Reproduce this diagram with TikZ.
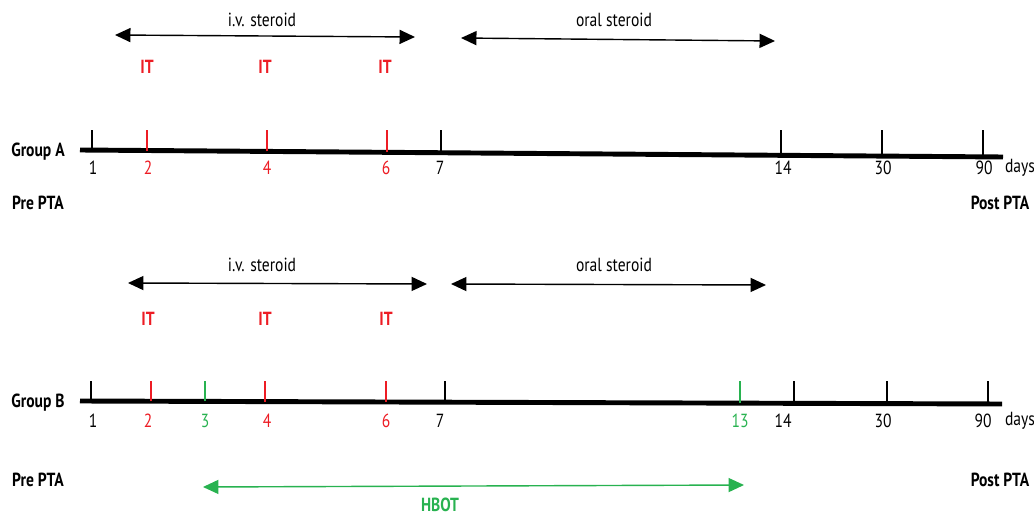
\documentclass[tikz,border=0pt]{standalone}
\usepackage{fontspec}
\setmainfont{PT Sans}[FakeStretch=0.82]
\usetikzlibrary{arrows.meta}
\definecolor{itred}{RGB}{237,28,36}
\definecolor{hbgreen}{RGB}{40,178,80}
\tikzset{axisline/.style={line width=3.5pt},
 tickmark/.style={line width=1.4pt},
 span/.style={{Triangle[length=11pt,width=10pt]}-{Triangle[length=11pt,width=10pt]},line width=1pt},
 txt/.style={font=\fontsize{13.5}{15}\selectfont},
 bold/.style={font=\fontsize{13.5}{15}\selectfont\bfseries},
 itlbl/.style={bold,text=itred},
 }

\begin{document}
\begin{tikzpicture}[x=0.025cm,y=-0.025cm]
        \useasboundingbox (0,0) rectangle (1034,518);
        % group A
        \coordinate (A0) at (80,150);
        \coordinate (A1) at (1003,157);
        \draw[axisline] (A0) -- (A1);
        \foreach \t/\l/\d/\c[count=\i] in {92/93/1/black, 147/148/2/itred, 267/267/4/itred, 387/386/6/itred, 441/440/7/black, 781/783/14/black, 882/883/30/black, 983/984/90/black} {
            \pgfmathsetmacro{\yb}{150+7*(\t-80)/923}
            \draw[tickmark, \c] (\t, \yb) -- (\t, 130);
            \node[txt, text=\c] (dA\i) at (\l, 168) {\d};
        }
        \node[txt] (daysA) at (1020, 168) {days};
        \node[bold] (grpA) at (38, 152) {Group A};
        \node[bold] (preA) at (38, 203) {Pre PTA};
        \node[bold] (postA) at (1000, 203) {Post PTA};
        \coordinate (ivA0) at (115, 35);
        \coordinate (ivA1) at (415, 37);
        \draw[span] (ivA0) -- (ivA1);
        \node[txt] (ivA) at (262, 20) {i.v. steroid};
        \coordinate (orA0) at (461, 38);
        \coordinate (orA1) at (775, 41);
        \draw[span] (orA0) -- (orA1);
        \node[txt] (orA) at (614, 20) {oral steroid};
        \foreach \x[count=\i] in {147, 265, 385} {
            \node[itlbl] (itA\i) at (\x, 67) {IT};
        }

        % group B
        \coordinate (B0) at (80,401);
        \coordinate (B1) at (1002,404);
        \draw[axisline] (B0) -- (B1);
        \foreach \t/\l/\d/\c[count=\i] in {91/93/1/black, 151/148/2/itred, 205/205/3/hbgreen, 265/267/4/itred, 386/386/6/itred, 445/440/7/black, 740/740/13/hbgreen, 794/783/14/black, 887/883/30/black, 988/983/90/black} {
            \pgfmathsetmacro{\yb}{401+3*(\t-80)/922}
            \draw[tickmark, \c] (\t, \yb) -- (\t, 381);
            \node[txt, text=\c] (dB\i) at (\l, 421) {\d};
        }
        \node[txt] (daysB) at (1020, 421) {days};
        \node[bold] (grpB) at (38, 403) {Group B};
        \node[bold] (preB) at (38, 480) {Pre PTA};
        \node[bold] (postB) at (1000, 480) {Post PTA};
        \coordinate (ivB0) at (128, 283);
        \coordinate (ivB1) at (427, 284);
        \draw[span] (ivB0) -- (ivB1);
        \node[txt] (ivB) at (262, 265) {i.v. steroid};
        \coordinate (orB0) at (451, 284);
        \coordinate (orB1) at (766, 285);
        \draw[span] (orB0) -- (orB1);
        \node[txt] (orB) at (614, 265) {oral steroid};
        \foreach \x[count=\i] in {148, 265, 386} {
            \node[itlbl] (itB\i) at (\x, 319) {IT};
        }
        \coordinate (hb0) at (203, 487);
        \coordinate (hb1) at (744, 485);
        \draw[span, hbgreen] (hb0) -- (hb1);
        \node[bold, text=hbgreen] (hbot) at (440, 505) {HBOT};
    \end{tikzpicture}
\end{document}
